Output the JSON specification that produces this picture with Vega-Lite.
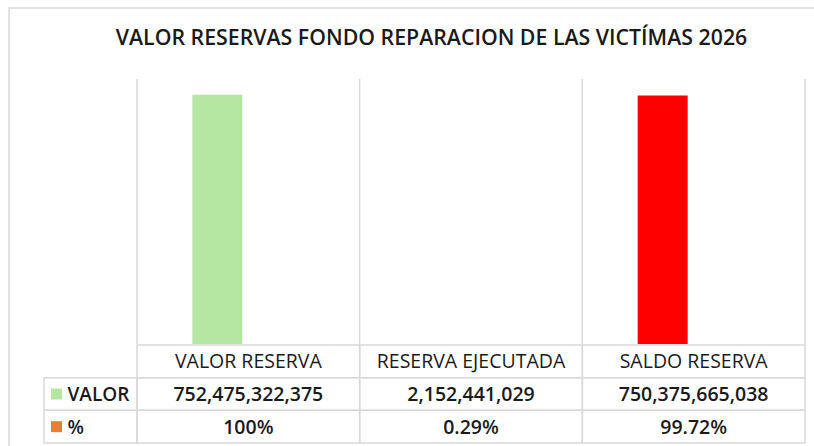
{
  "$schema": "https://vega.github.io/schema/vega-lite/v6.json",
  "width": 805,
  "height": 438,
  "autosize": {"type": "none"},
  "padding": {"left": 9, "top": 8, "right": 0, "bottom": 0},
  "background": "#ffffff",
  "title": {
    "text": "VALOR RESERVAS FONDO REPARACION DE LAS VICTÍMAS 2026",
    "anchor": "middle",
    "frame": "group",
    "offset": -41,
    "dx": 20,
    "font": "Open Sans",
    "fontSize": 21.3,
    "fontWeight": 600,
    "color": "#1a1a1a"
  },
  "datasets": {
    "cats": [
      {"cat": "VALOR RESERVA", "valor": 752475322375, "pct": 1},
      {"cat": "RESERVA EJECUTADA", "valor": 2152441029, "pct": 0.0029},
      {"cat": "SALDO RESERVA", "valor": 750375665038, "pct": 0.9972}
    ],
    "series": [
      {"serie": "VALOR"},
      {"serie": "%"}
    ]
  },
  "resolve": {"scale": {"x": "independent", "y": "independent", "color": "independent"}},
  "layer": [
    {
      "data": {"name": "cats"},
      "mark": {"type": "bar", "width": 50, "xOffset": -31},
      "encoding": {
        "x": {"field": "cat", "type": "nominal", "axis": null,
              "scale": {"domain": ["VALOR RESERVA", "RESERVA EJECUTADA", "SALDO RESERVA"], "range": [128, 796], "paddingInner": 0, "paddingOuter": 0}},
        "y": {"field": "valor", "type": "quantitative", "axis": null,
              "scale": {"domain": [0, 800000000000], "range": [336, 71], "nice": false}},
        "color": {"field": "cat", "type": "nominal", "legend": null,
                  "scale": {"domain": ["VALOR RESERVA", "RESERVA EJECUTADA", "SALDO RESERVA"], "range": ["#b5e6a2", "#ffffff", "#ff0000"]}}
      }
    },
    {
      "data": {"name": "cats"},
      "mark": {"type": "rule", "color": "#d9d9d9", "strokeWidth": 1.5},
      "encoding": {
        "x": {"field": "cat", "type": "nominal", "bandPosition": 0, "axis": null,
              "scale": {"domain": ["VALOR RESERVA", "RESERVA EJECUTADA", "SALDO RESERVA"], "range": [128, 796], "paddingInner": 0, "paddingOuter": 0}},
        "y": {"datum": 800000000000, "type": "quantitative", "axis": null,
              "scale": {"domain": [0, 800000000000], "range": [336, 71], "nice": false}},
        "y2": {"datum": 0}
      }
    },
    {
      "data": {"name": "cats"},
      "transform": [{"filter": "datum.cat === 'SALDO RESERVA'"}],
      "mark": {"type": "rule", "color": "#d9d9d9", "strokeWidth": 1.5},
      "encoding": {
        "x": {"field": "cat", "type": "nominal", "bandPosition": 1, "axis": null,
              "scale": {"domain": ["VALOR RESERVA", "RESERVA EJECUTADA", "SALDO RESERVA"], "range": [128, 796], "paddingInner": 0, "paddingOuter": 0}},
        "y": {"datum": 800000000000, "type": "quantitative", "axis": null,
              "scale": {"domain": [0, 800000000000], "range": [336, 71], "nice": false}},
        "y2": {"datum": 0}
      }
    },
    {
      "data": {"name": "cats"},
      "transform": [{"fold": ["cat", "valor", "pct"], "as": ["row", "v"]}],
      "mark": {"type": "rect", "fill": null, "stroke": "#d9d9d9", "strokeWidth": 1.5},
      "encoding": {
        "x": {"field": "cat", "type": "nominal", "axis": null,
              "scale": {"domain": ["VALOR RESERVA", "RESERVA EJECUTADA", "SALDO RESERVA"], "range": [128, 796], "paddingInner": 0, "paddingOuter": 0}},
        "y": {"field": "row", "type": "nominal", "axis": null,
              "scale": {"domain": ["cat", "valor", "pct"], "range": [337, 435], "paddingInner": 0, "paddingOuter": 0}}
      }
    },
    {
      "data": {"name": "cats"},
      "mark": {"type": "text", "font": "Open Sans", "fontSize": 19.5, "fontWeight": 500, "color": "#1a1a1a", "baseline": "middle", "align": "center", "dy": 1},
      "encoding": {
        "x": {"field": "cat", "type": "nominal", "axis": null,
              "scale": {"domain": ["VALOR RESERVA", "RESERVA EJECUTADA", "SALDO RESERVA"], "range": [128, 796], "paddingInner": 0, "paddingOuter": 0}},
        "y": {"datum": "cat", "type": "nominal", "axis": null,
              "scale": {"domain": ["cat", "valor", "pct"], "range": [337, 435], "paddingInner": 0, "paddingOuter": 0}},
        "text": {"field": "cat", "type": "nominal"}
      }
    },
    {
      "data": {"name": "cats"},
      "mark": {"type": "text", "font": "Open Sans", "fontSize": 19.5, "fontWeight": 600, "color": "#1a1a1a", "baseline": "middle", "align": "center", "dy": 1},
      "encoding": {
        "x": {"field": "cat", "type": "nominal", "axis": null,
              "scale": {"domain": ["VALOR RESERVA", "RESERVA EJECUTADA", "SALDO RESERVA"], "range": [128, 796], "paddingInner": 0, "paddingOuter": 0}},
        "y": {"datum": "valor", "type": "nominal", "axis": null,
              "scale": {"domain": ["cat", "valor", "pct"], "range": [337, 435], "paddingInner": 0, "paddingOuter": 0}},
        "text": {"field": "valor", "type": "quantitative", "format": ",d"}
      }
    },
    {
      "data": {"name": "cats"},
      "mark": {"type": "text", "font": "Open Sans", "fontSize": 19.5, "fontWeight": 600, "color": "#1a1a1a", "baseline": "middle", "align": "center", "dy": 1},
      "encoding": {
        "x": {"field": "cat", "type": "nominal", "axis": null,
              "scale": {"domain": ["VALOR RESERVA", "RESERVA EJECUTADA", "SALDO RESERVA"], "range": [128, 796], "paddingInner": 0, "paddingOuter": 0}},
        "y": {"datum": "pct", "type": "nominal", "axis": null,
              "scale": {"domain": ["cat", "valor", "pct"], "range": [337, 435], "paddingInner": 0, "paddingOuter": 0}},
        "text": {"field": "pct", "type": "quantitative", "format": "~%"}
      }
    },
    {
      "data": {"name": "series"},
      "mark": {"type": "rect", "fill": null, "stroke": "#d9d9d9", "strokeWidth": 1.5},
      "encoding": {
        "x": {"datum": "lbl", "type": "nominal", "axis": null,
              "scale": {"domain": ["lbl"], "range": [35, 128], "paddingInner": 0, "paddingOuter": 0}},
        "y": {"field": "serie", "type": "nominal", "axis": null,
              "scale": {"domain": [" ", "VALOR", "%"], "range": [337, 435], "paddingInner": 0, "paddingOuter": 0}}
      }
    },
    {
      "data": {"name": "series"},
      "mark": {"type": "square", "size": 121, "filled": true, "opacity": 1, "xOffset": -34},
      "encoding": {
        "x": {"datum": "lbl", "type": "nominal", "axis": null,
              "scale": {"domain": ["lbl"], "range": [35, 128], "paddingInner": 0, "paddingOuter": 0}},
        "y": {"field": "serie", "type": "nominal", "axis": null,
              "scale": {"domain": [" ", "VALOR", "%"], "range": [337, 435], "paddingInner": 0, "paddingOuter": 0}},
        "color": {"field": "serie", "type": "nominal", "legend": null,
                  "scale": {"domain": ["VALOR", "%"], "range": ["#b5e6a2", "#ed7d31"]}}
      }
    },
    {
      "data": {"name": "series"},
      "mark": {"type": "text", "font": "Open Sans", "fontSize": 19, "fontWeight": 600, "color": "#1a1a1a", "baseline": "middle", "align": "left", "dx": -23, "dy": 1},
      "encoding": {
        "x": {"datum": "lbl", "type": "nominal", "axis": null,
              "scale": {"domain": ["lbl"], "range": [35, 128], "paddingInner": 0, "paddingOuter": 0}},
        "y": {"field": "serie", "type": "nominal", "axis": null,
              "scale": {"domain": [" ", "VALOR", "%"], "range": [337, 435], "paddingInner": 0, "paddingOuter": 0}},
        "text": {"field": "serie", "type": "nominal"}
      }
    }
  ],
  "config": {
    "view": {"stroke": "#d9d9d9", "strokeWidth": 1.5, "strokeDash": [805, 1243, 438, 1]},
    "axis": {"disable": true},
    "legend": {"disable": true}
  }
}
